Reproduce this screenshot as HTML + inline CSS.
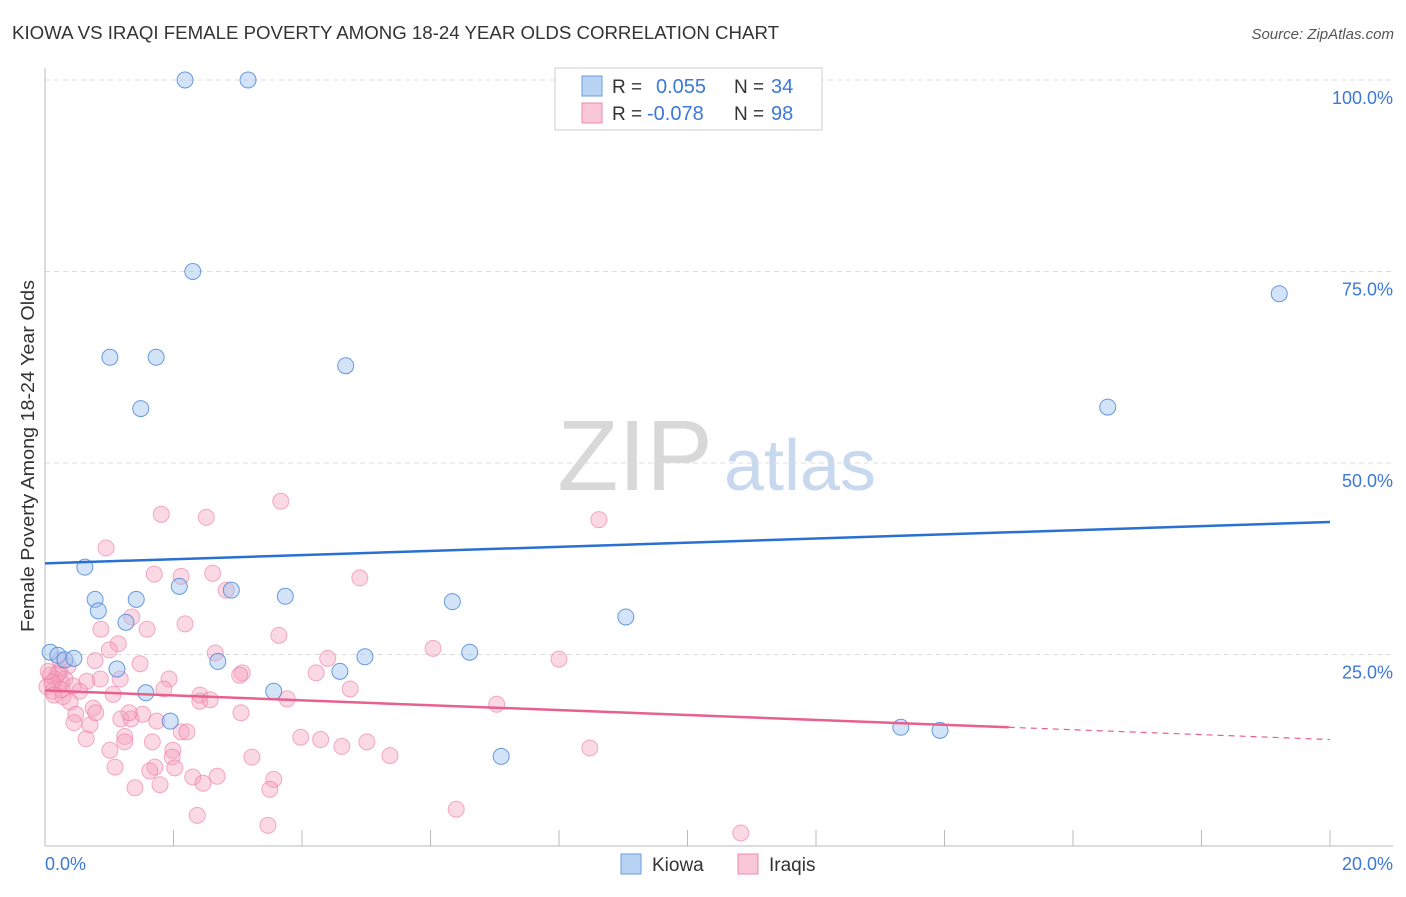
<!DOCTYPE html>
<html><head><meta charset="utf-8"><style>
body{margin:0;background:#fff;font-family:"Liberation Sans",sans-serif;}
svg text{font-family:"Liberation Sans",sans-serif;}
</style></head><body>
<svg id="chart" width="1406" height="892">
<text x="12" y="39" font-size="18" fill="#333" textLength="767" lengthAdjust="spacingAndGlyphs">KIOWA VS IRAQI FEMALE POVERTY AMONG 18-24 YEAR OLDS CORRELATION CHART</text>
<text x="1394" y="39" font-size="15" fill="#555" text-anchor="end" font-style="italic">Source: ZipAtlas.com</text>
<g>
<text x="635" y="490" font-size="100" fill="#d8d8d8" font-family="Liberation Serif" text-anchor="middle">ZIP</text>
<text x="800" y="490" font-size="72" fill="#c8d8ee" text-anchor="middle">atlas</text>
</g>
<g id="grid"></g>
<g id="axes"></g>
<g id="marks"></g>
<text transform="translate(34,456) rotate(-90)" font-size="18" fill="#333" text-anchor="middle" textLength="352" lengthAdjust="spacingAndGlyphs">Female Poverty Among 18-24 Year Olds</text>
<g>
<rect x="555" y="68" width="267" height="62" fill="#fff" stroke="#ccc"/>
<rect x="582" y="76" width="20" height="20" fill="#b9d3f5" stroke="#6a9de0"/>
<rect x="582" y="103" width="20" height="20" fill="#f9c8d8" stroke="#ec8aa8"/>
<text x="612" y="93" font-size="19" fill="#333">R =</text>
<text x="656" y="93" font-size="20" fill="#3b78d8">0.055</text>
<text x="734" y="93" font-size="19" fill="#333">N =</text>
<text x="771" y="93" font-size="20" fill="#3b78d8">34</text>
<text x="612" y="120" font-size="19" fill="#333">R =</text>
<text x="647" y="120" font-size="20" fill="#3b78d8">-0.078</text>
<text x="734" y="120" font-size="19" fill="#333">N =</text>
<text x="771" y="120" font-size="20" fill="#3b78d8">98</text>
</g>
<g>
<rect x="621" y="854" width="20" height="20" fill="#b9d3f5" stroke="#6a9de0"/>
<text x="652" y="871" font-size="19" fill="#333">Kiowa</text>
<rect x="738" y="854" width="20" height="20" fill="#f9c8d8" stroke="#ec8aa8"/>
<text x="769" y="871" font-size="19" fill="#333">Iraqis</text>
</g>
</svg>
<script>
const yTicks=[25,50,75,100];
const yTickLabels=["25.0%","50.0%","75.0%","100.0%"];
const xTicks=[2,4,6,8,10,12,14,16,18,20];
const kiowaX=[2.18,3.16,2.30,1.01,1.73,4.68,1.49,16.54,19.21,0.62,2.09,2.90,0.78,1.42,3.74,6.34,0.83,1.26,9.04,0.08,0.20,0.31,0.45,6.61,4.98,2.69,1.12,4.59,1.57,3.56,1.95,13.32,13.93,7.10];
const kiowaY=[100,100,75,63.8,63.8,62.7,57.1,57.3,72.1,36.4,33.9,33.4,32.2,32.2,32.6,31.9,30.7,29.2,29.9,25.3,24.9,24.3,24.5,25.3,24.7,24.1,23.1,22.8,20.0,20.2,16.3,15.5,15.1,11.7];
const iraqiX=[0.95,1.81,2.51,3.67,8.62,1.70,2.12,2.61,4.90,2.82,1.35,2.18,0.87,1.59,3.64,1.14,1.00,2.65,6.04,4.40,8.00,0.78,1.48,3.07,4.22,0.36,0.23,0.08,0.16,0.26,0.03,0.12,0.31,0.44,0.65,0.86,1.17,1.93,0.54,1.06,1.85,2.41,4.75,3.77,0.28,0.39,2.41,2.57,7.03,0.75,0.48,1.18,1.34,1.52,3.05,0.45,0.70,1.74,2.12,1.24,1.24,2.21,1.67,3.98,4.29,4.62,5.01,0.64,1.01,1.99,1.98,3.22,5.37,8.48,1.09,1.71,1.63,2.02,2.30,2.68,3.56,1.40,1.79,2.46,3.50,2.37,6.40,3.47,10.83,0.20,0.11,0.05,0.26,0.14,3.03,1.31,0.79,0.23];
const iraqiY=[38.9,43.3,42.9,45.0,42.6,35.5,35.2,35.6,35.0,33.4,29.9,29.0,28.3,28.3,27.5,26.4,25.6,25.2,25.8,24.5,24.4,24.2,23.8,22.6,22.6,23.5,22.8,22.3,21.8,21.3,20.8,20.2,21.8,20.9,21.5,21.8,21.8,21.8,20.2,19.8,20.5,19.7,20.5,19.2,19.5,18.8,18.9,19.1,18.5,18.0,17.2,16.6,16.6,17.2,17.4,16.1,15.8,16.3,14.9,14.3,13.6,14.9,13.6,14.2,13.9,13.0,13.6,14.0,12.5,12.5,11.6,11.6,11.8,12.8,10.3,10.3,9.8,10.2,9.0,9.1,8.7,7.6,8.0,8.2,7.4,4.0,4.8,2.7,1.7,22.5,21.4,22.8,20.4,19.7,22.3,17.4,17.4,24.3];
const kiowaTrend=[0,36.9,20,42.3];
const iraqiTrend=[0,20.3,15,15.5,20,13.9];
const NS='http://www.w3.org/2000/svg';
const X0=45,X1=1330,Y0=846,Y100=80;
function sx(v){return X0+(v/20)*(X1-X0);}
function sy(v){return Y0-(v/100)*(Y0-Y100);}
function mk(tag,attrs,parent){const e=document.createElementNS(NS,tag);for(const k in attrs)e.setAttribute(k,attrs[k]);parent.appendChild(e);return e;}
const grid=document.getElementById('grid'),axes=document.getElementById('axes'),marks=document.getElementById('marks');
yTicks.forEach((t,i)=>{
 const l=mk('line',{x1:X0,x2:1393,y1:sy(t),y2:sy(t),stroke:'#ddd','stroke-dasharray':'5,4'},grid);
 
 
 const tx=mk('text',{x:1393,y:sy(t)+24,'font-size':18,fill:'#3b78d8','text-anchor':'end'},axes);
 tx.textContent=yTickLabels[i];
 
 
});
const ya=mk('line',{x1:X0,x2:X0,y1:68,y2:Y0,stroke:'#bbb'},axes);


const xa=mk('line',{x1:X0,x2:1393,y1:Y0,y2:Y0,stroke:'#bbb'},axes);


xTicks.forEach(t=>{
 const l=mk('line',{x1:sx(t),x2:sx(t),y1:830,y2:Y0,stroke:'#bbb'},axes);
 
 
});
const xl0=mk('text',{x:45,y:870,'font-size':18,fill:'#3b78d8'},axes);xl0.textContent='0.0%';


const xl1=mk('text',{x:1393,y:870,'font-size':18,fill:'#3b78d8','text-anchor':'end'},axes);xl1.textContent='20.0%';


iraqiX.forEach((x,i)=>{
 const c=mk('circle',{cx:sx(x),cy:sy(iraqiY[i]),r:8,fill:'rgba(244,160,188,0.4)',stroke:'rgba(236,120,160,0.6)','stroke-width':1},marks);
 
 
});
kiowaX.forEach((x,i)=>{
 const c=mk('circle',{cx:sx(x),cy:sy(kiowaY[i]),r:8,fill:'rgba(160,196,240,0.45)',stroke:'rgba(70,130,215,0.8)','stroke-width':1},marks);
 
 
});
const kt=mk('line',{x1:sx(kiowaTrend[0]),y1:sy(kiowaTrend[1]),x2:sx(kiowaTrend[2]),y2:sy(kiowaTrend[3]),stroke:'#2a6fd4','stroke-width':2.5},marks);


const it=mk('line',{x1:sx(iraqiTrend[0]),y1:sy(iraqiTrend[1]),x2:sx(iraqiTrend[2]),y2:sy(iraqiTrend[3]),stroke:'#e8608c','stroke-width':2.5},marks);


const id=mk('line',{x1:sx(iraqiTrend[2]),y1:sy(iraqiTrend[3]),x2:sx(iraqiTrend[4]),y2:sy(iraqiTrend[5]),stroke:'#e8608c','stroke-width':1.2,'stroke-dasharray':'6,5'},marks);


</script>
</body></html>
